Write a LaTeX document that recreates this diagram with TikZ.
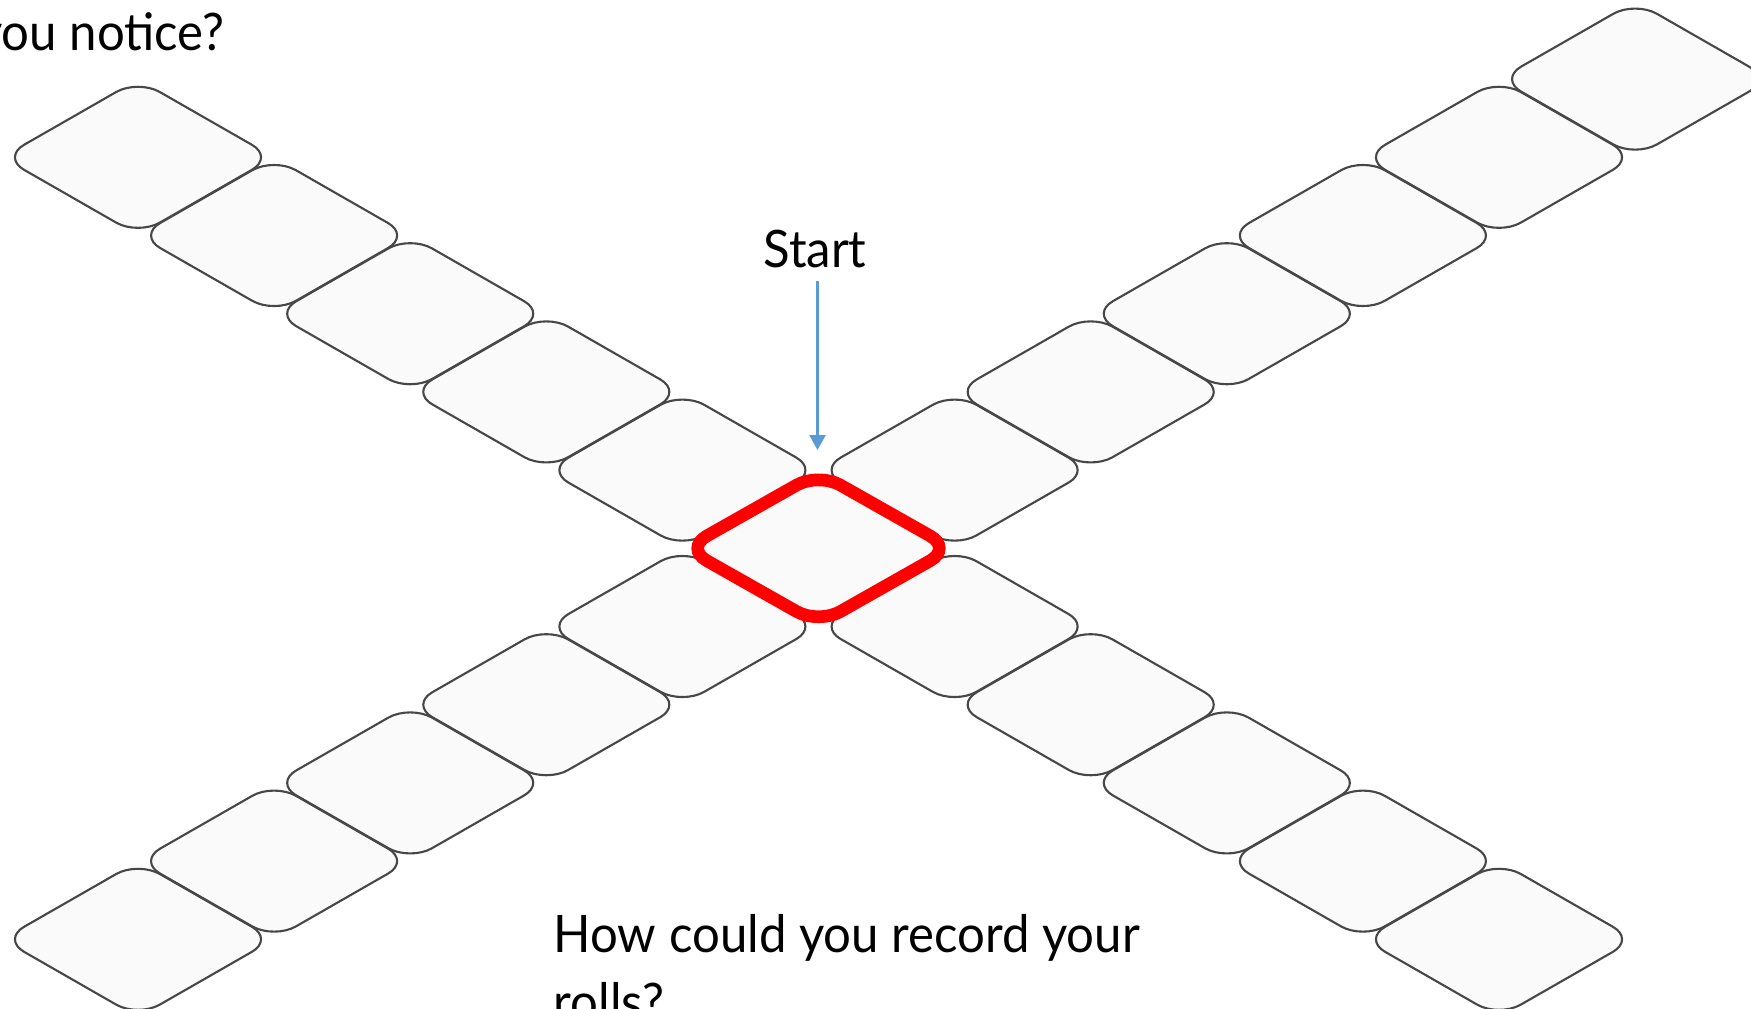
\documentclass[tikz,border=0pt]{standalone}
\usepackage{fontspec}
\setmainfont{Lato}[FakeStretch=0.95]
\usepackage{tikz}
\usetikzlibrary{shapes.geometric, arrows.meta}
\definecolor{tileedge}{HTML}{474747}
\definecolor{tilefill}{HTML}{FAFAFA}
\definecolor{homered}{HTML}{FF0000}
\definecolor{arrowblue}{HTML}{5B9BD5}

\begin{document}
\begin{tikzpicture}[x=0.01cm, y=-0.01cm,
  tile/.style={diamond, aspect=1.74, draw=tileedge, fill=tilefill, line width=0.6pt, rounded corners=0.25cm, minimum width=2.722cm, minimum height=1.564cm, inner sep=0pt},
  hometile/.style={tile, draw=homered, line width=3.6pt},
  qtext/.style={font=\fontsize{14.7pt}{17pt}\selectfont, inner sep=0pt},
  startarrow/.style={-{Triangle[length=0.15cm, width=0.16cm]}, arrowblue, line width=0.7pt}]
\useasboundingbox (0,0) rectangle (1751,1008);
% the four arms
\foreach \k in {1,...,5} {
  \node[tile] (nw\k) at (818.5-136.1*\k, 548.3-78.2*\k) {};
  \node[tile] (sw\k) at (818.5-136.1*\k, 548.3+78.2*\k) {};
  \node[tile] (se\k) at (818.5+136.1*\k, 548.3+78.2*\k) {};
}
\foreach \k in {1,...,6}
  \node[tile] (ne\k) at (818.5+136.1*\k, 548.3-78.2*\k) {};
% start square
\node[hometile] (home) at (818.5,548.3) {};
% texts
\node[qtext, anchor=base] (startlbl) at (815,267) {Start};
\coordinate (tip) at (817.5,450);
\draw[startarrow] (startlbl.south -| tip) ++(0,13) -- (tip);
\node[qtext, anchor=base east] (notice) at (225,50) {you notice?};
\node[qtext, anchor=base west] (record) at (553,952) {How could you record your};
\node[qtext, anchor=base west] (rolls) at (553,1020) {rolls?};
\end{tikzpicture}
\end{document}
